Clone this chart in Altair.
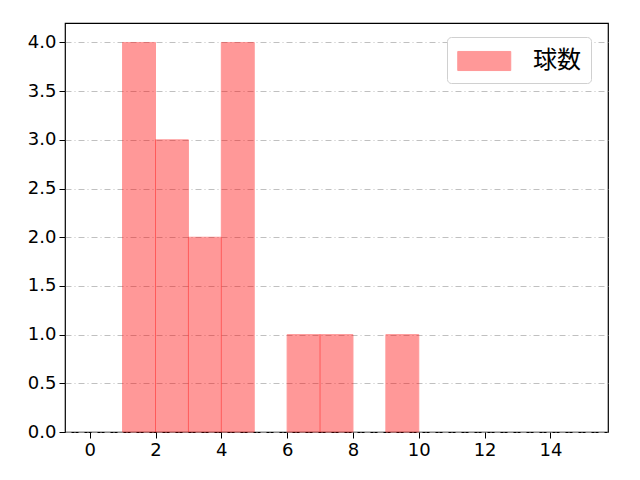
import altair as alt
import pandas as pd

bin_start = [1, 2, 3, 4, 6, 7, 9]
bin_end = [2, 3, 4, 5, 7, 8, 10]
counts = [4, 3, 2, 4, 1, 1, 1]
series = ["球数"] * len(counts)

df = pd.DataFrame({"x": bin_start, "x2": bin_end, "y": counts, "y0": [0] * len(counts), "s": series})

FONT = "DejaVu Sans"

bars = alt.Chart(df).mark_bar(
    opacity=0.4, stroke="#FF0000", strokeWidth=1
).encode(
    x=alt.X("x:Q", scale=alt.Scale(domain=[-0.75, 15.75], nice=False, zero=False),
            axis=alt.Axis(values=[0, 2, 4, 6, 8, 10, 12, 14], format="d", grid=False,
                          title=None)),
    x2="x2:Q",
    y=alt.Y("y:Q", scale=alt.Scale(domain=[0, 4.2], nice=False),
            axis=alt.Axis(values=[0, 0.5, 1, 1.5, 2, 2.5, 3, 3.5, 4], format=".1f",
                          grid=True, gridDash=[6, 3, 1, 3], gridColor="#b0b0b0",
                          gridWidth=0.8, title=None)),
    y2="y0:Q",
    color=alt.Color("s:N", scale=alt.Scale(range=["#FF0000"]),
                    legend=alt.Legend(title=None, orient="none", legendX=382, legendY=14,
                                      symbolType="M-1,-0.72L3,-0.72L3,0.72L-1,0.72Z",
                                      symbolSize=702, symbolOpacity=0.4,
                                      symbolStrokeColor="#FF0000", symbolStrokeWidth=1,
                                      labelFontSize=24, labelFont="Noto Sans CJK JP",
                                      labelColor="black",
                                      padding=10, fillColor="white",
                                      strokeColor="#d0d0d0", cornerRadius=4,
                                      labelOffset=48)),
)

chart = bars.properties(
    width=543, height=409,
    background="white",
    autosize=alt.AutoSizeParams(type="none"),
    padding={"left": 57, "top": 15, "right": 24, "bottom": 40},
).configure_view(
    stroke="black", strokeWidth=1.2
).configure_axis(
    labelFontSize=18, labelFont=FONT, labelColor="black",
    tickColor="black", domainColor="black", tickSize=6, labelPadding=3,
    domain=False,
)

chart.save("out.html", embed_options={"renderer": "svg", "actions": False})
